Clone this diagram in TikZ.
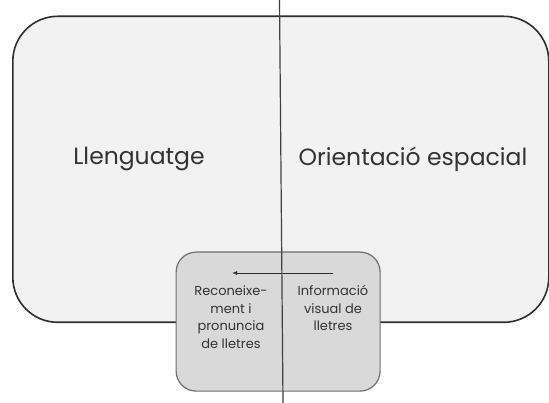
\documentclass[tikz,border=0pt]{standalone}
\usepackage{fontspec}
\setmainfont{Poppins}
\usetikzlibrary{arrows.meta}
\definecolor{bigfill}{HTML}{F2F2F2}
\definecolor{bigline}{HTML}{2E2E2E}
\definecolor{smallfill}{HTML}{D9D9D9}
\definecolor{smallline}{HTML}{6E6E6E}
\definecolor{txt}{HTML}{333333}
\tikzset{
  bigbox/.style={draw=bigline, fill=bigfill, line width=1.6pt, rounded corners=45pt, anchor=north west, inner sep=0pt},
  smallbox/.style={draw=smallline, fill=smallfill, line width=1.2pt, rounded corners=20pt, anchor=north west, inner sep=0pt},
  bigtext/.style={text=txt, font=\fontsize{23.5}{28}\selectfont, inner sep=0pt},
  smalltext/.style={text=txt, font=\fontsize{13}{17.5}\selectfont, align=center, inner sep=0pt},
  divider/.style={draw=black!75, line width=1.2pt},
  flow/.style={draw=bigline, line width=0.9pt, -{Latex[length=5pt,width=4pt]}}
}
\begin{document}
\begin{tikzpicture}[x=1pt,y=-1pt]
\useasboundingbox (0,0) rectangle (549,403);
\node[bigbox, minimum width=536pt, minimum height=306pt] (big) at (12,15.5) {};
\node[smallbox, minimum width=204pt, minimum height=139pt] (small) at (175.5,251.5) {};
\node[bigtext] (lang) at (139,159) {Llenguatge};
\node[bigtext] (orient) at (413,159) {Orientació espacial};
\node[smalltext, anchor=north] (recog) at (231,285.5) {Reconeixe-\\ment i\\pronuncia\\de lletres};
\node[smalltext, anchor=north] (info) at (333,285.5) {Informació\\visual de\\lletres};
\coordinate (a1) at (333,273);
\coordinate (a2) at (232,273);
\draw[flow] (a1) -- (a2);
\coordinate (t) at (279.5,0);
\coordinate (b) at (283,403);
\draw[divider] (t) -- (b);
\end{tikzpicture}
\end{document}
